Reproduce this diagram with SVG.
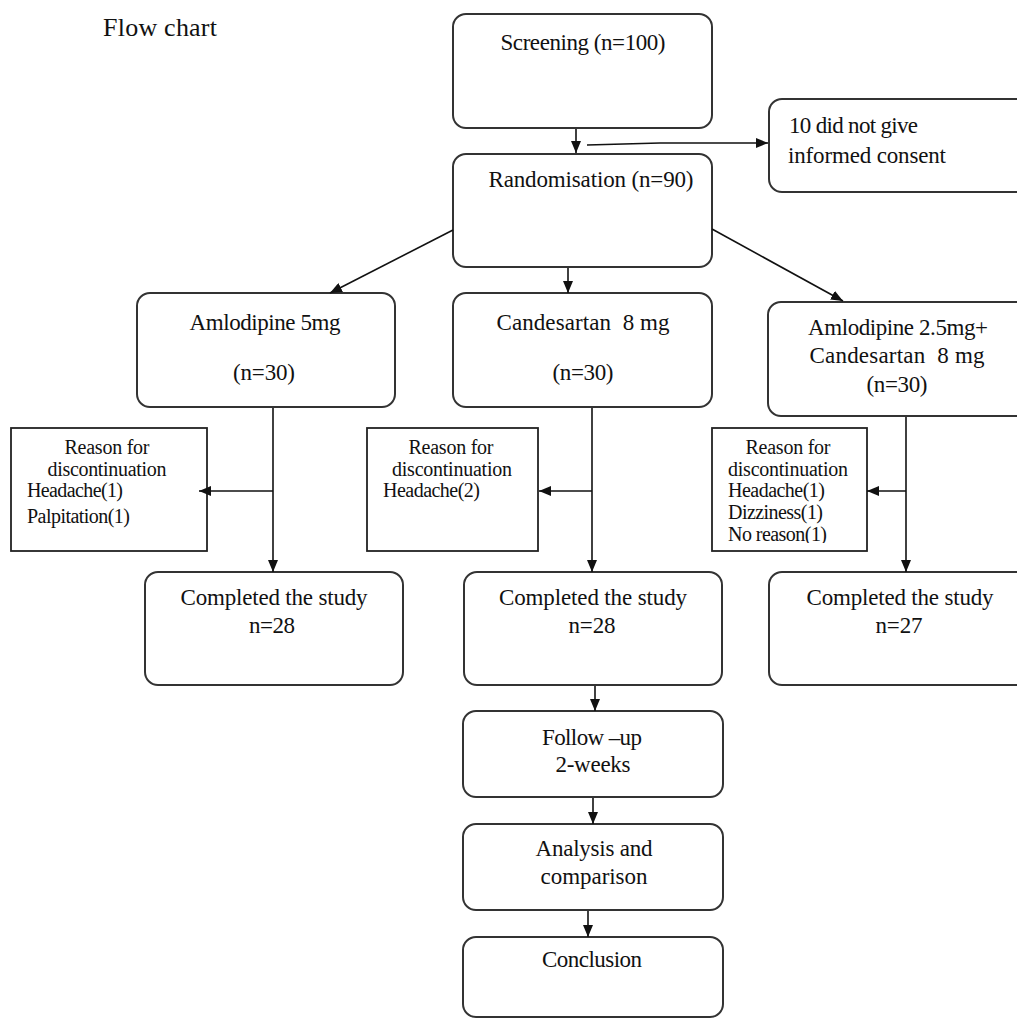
<svg xmlns="http://www.w3.org/2000/svg" width="1017" height="1019" viewBox="0 0 1017 1019">
<style>
.box{fill:#fff;stroke:#333;stroke-width:2}
.rbox{fill:#fff;stroke:#222;stroke-width:1.8}
.t{font-family:"Liberation Serif","Times New Roman",serif;font-size:23px;fill:#111;white-space:pre}
.s{font-family:"Liberation Serif","Times New Roman",serif;font-size:20px;fill:#111;white-space:pre}
.m{text-anchor:middle}
.ln{stroke:#111;stroke-width:1.6;fill:none;marker-end:url(#ah)}
</style>
<defs>
<marker id="ah" viewBox="0 0 12 10" refX="12" refY="5" markerWidth="12" markerHeight="10" markerUnits="userSpaceOnUse" orient="auto">
<path d="M0,0 L12,5 L0,10 Z" fill="#111"/>
</marker>
<clipPath id="clipR"><rect x="712" y="428" width="155" height="115"/></clipPath>
</defs>
<rect width="1017" height="1019" fill="#fff"/>
<text class="t" x="103" y="36" style="font-size:26px" textLength="114">Flow chart</text>

<g id="screening">
<rect class="box" x="453" y="14" width="259" height="114" rx="13"/>
<text class="t m" x="583" y="50" textLength="165">Screening (n=100)</text>
</g>
<g id="consent">
<rect class="box" x="769" y="99" width="270" height="93" rx="13"/>
<text class="t" x="789" y="133" textLength="129">10 did not give</text>
<text class="t" x="788" y="163" textLength="158">informed consent</text>
</g>
<g id="randomisation">
<rect class="box" x="453" y="154" width="259" height="113" rx="13"/>
<text class="t m" x="591" y="187" textLength="205">Randomisation (n=90)</text>
</g>
<g id="amlodipine">
<rect class="box" x="137" y="293" width="258" height="114" rx="13"/>
<text class="t m" x="265" y="330" textLength="151">Amlodipine 5mg</text>
<text class="t m" x="264" y="380" textLength="62">(n=30)</text>
</g>
<g id="candesartan">
<rect class="box" x="453" y="293" width="259" height="114" rx="13"/>
<text class="t m" x="583" y="330" textLength="173">Candesartan  8 mg</text>
<text class="t m" x="583" y="380" textLength="61">(n=30)</text>
</g>
<g id="combo">
<rect class="box" x="768" y="302" width="270" height="114" rx="13"/>
<text class="t m" x="898" y="335" textLength="180">Amlodipine 2.5mg+</text>
<text class="t m" x="897" y="363" textLength="175">Candesartan  8 mg</text>
<text class="t m" x="897" y="392" textLength="61">(n=30)</text>
</g>
<g id="reason-left">
<rect class="rbox" x="11" y="428" width="196" height="123"/>
<text class="s m" x="107" y="454" textLength="85">Reason for</text>
<text class="s m" x="107" y="476" textLength="119">discontinuation</text>
<text class="s" x="27" y="497" textLength="96">Headache(1)</text>
<text class="s" x="27" y="523" textLength="103">Palpitation(1)</text>
</g>
<g id="reason-mid">
<rect class="rbox" x="367" y="428" width="171" height="123"/>
<text class="s m" x="451" y="454" textLength="85">Reason for</text>
<text class="s m" x="452" y="476" textLength="120">discontinuation</text>
<text class="s" x="383" y="497" textLength="97">Headache(2)</text>
</g>
<g id="reason-right">
<rect class="rbox" x="712" y="428" width="155" height="123"/>
<text class="s m" x="788" y="454" textLength="85">Reason for</text>
<text class="s m" x="788" y="476" textLength="120">discontinuation</text>
<text class="s" x="728" y="497" textLength="97">Headache(1)</text>
<text class="s" x="728" y="519" textLength="95">Dizziness(1)</text>
<text class="s" x="728" y="541" textLength="99" clip-path="url(#clipR)">No reason(1)</text>
</g>
<g id="completed-1">
<rect class="box" x="145" y="572" width="258" height="113" rx="13"/>
<text class="t m" x="274" y="605" textLength="187">Completed the study</text>
<text class="t m" x="272" y="633" textLength="46">n=28</text>
</g>
<g id="completed-2">
<rect class="box" x="464" y="572" width="258" height="113" rx="13"/>
<text class="t m" x="593" y="605" textLength="188">Completed the study</text>
<text class="t m" x="592" y="633" textLength="47">n=28</text>
</g>
<g id="completed-3">
<rect class="box" x="769" y="572" width="270" height="113" rx="13"/>
<text class="t m" x="900" y="605" textLength="187">Completed the study</text>
<text class="t m" x="899" y="633" textLength="47">n=27</text>
</g>
<g id="followup">
<rect class="box" x="463" y="711" width="260" height="86" rx="13"/>
<text class="t m" x="592" y="745" textLength="100">Follow –up</text>
<text class="t m" x="593" y="772" textLength="75">2-weeks</text>
</g>
<g id="analysis">
<rect class="box" x="463" y="824" width="260" height="86" rx="13"/>
<text class="t m" x="594" y="856" textLength="117">Analysis and</text>
<text class="t m" x="594" y="884" textLength="107">comparison</text>
</g>
<g id="conclusion">
<rect class="box" x="463" y="937" width="260" height="80" rx="13"/>
<text class="t m" x="592" y="967" textLength="100">Conclusion</text>
</g>

<g id="connectors">
<line class="ln" x1="576" y1="129" x2="576" y2="153"/>
<polyline class="ln" points="587,145 660,143 768,143"/>
<line class="ln" x1="453" y1="230" x2="330" y2="293"/>
<line class="ln" x1="568" y1="268" x2="568" y2="293"/>
<line class="ln" x1="712" y1="229" x2="843" y2="301"/>
<line class="ln" x1="273" y1="408" x2="273" y2="572"/>
<line class="ln" x1="273" y1="491" x2="199" y2="491"/>
<line class="ln" x1="592" y1="408" x2="592" y2="572"/>
<line class="ln" x1="592" y1="491" x2="539" y2="491"/>
<line class="ln" x1="906" y1="417" x2="906" y2="572"/>
<line class="ln" x1="906" y1="491" x2="867" y2="491"/>
<line class="ln" x1="595" y1="686" x2="595" y2="711"/>
<line class="ln" x1="593" y1="798" x2="593" y2="824"/>
<line class="ln" x1="588" y1="911" x2="588" y2="937"/>
</g>
</svg>
